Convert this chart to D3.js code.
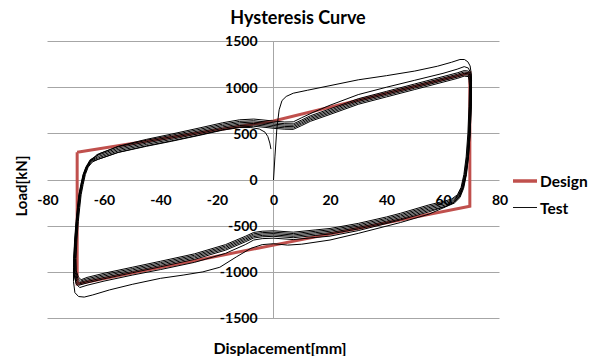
<!DOCTYPE html>
<html>
<head>
<meta charset="utf-8">
<script src="https://cdn.jsdelivr.net/npm/d3@7"></script>
<style>
  body { margin: 0; background: #fff; }
  svg { display: block; }
  text { font-family: Lato, "Liberation Sans", sans-serif; font-weight: 700; fill: #000; }
</style>
</head>
<body>
<svg id="chart" width="600" height="356"></svg>
<script>
// Axis ticks
const dispTicks = [-80, -60, -40, -20, 0, 20, 40, 60, 80];
const loadTicks = [-1500, -1000, -500, 0, 500, 1000, 1500];

// Design (idealised) envelope: displacement [mm] and load [kN]
const designDisp = [-69.5, 0, 69.5, 69.5, -69.5, -69.5];
const designLoad = [300, 640, 1160, -285, -1125, 300];

// Test record, cycle by cycle: [displacement mm, load kN]
const testCycle1 = [
  [0,0],[0.5,250],[1.2,560],[2,760],[3,860],[4.5,905],[7,940],[12,972],[20,1022],[30,1085],
  [40,1130],[50,1180],[58,1232],[63,1275],[66,1305],[67.6,1305],[68.8,1280],[69.6,1235],[70,1150],
  [70.1,1000],[70,800],[69.6,500],[69,250],[68.3,60],[67.3,-90],[66,-190],[64,-250],[61,-290],
  [55,-370],[45,-460],[30,-578],[20,-650],[10,-695],[5,-705],[0,-690],[-4,-700],[-8,-740],
  [-13,-830],[-19,-945],[-25,-995],[-32,-1030],[-40,-1065],[-50,-1130],[-58,-1190],[-64,-1245],
  [-67,-1268],[-69,-1262],[-70.3,-1220],
  [-70.8,-1100],[-70.8,-950],[-70.4,-750],[-69.8,-500],[-69.2,-300],[-68.5,-130],[-67.6,0],
  [-66.5,110],[-65,200]
];
const testCycle2 = [
  [-62.5,275],[-55,365],[-45,440],[-36,498],[-26,565],[-18,620],[-12,652],[-7,660],[-3,648],
  [0,638],[4,628],[7,630],[10,675],[14,732],[20,810],[30,925],[40,1005],[50,1080],[60,1155],
  [65,1200],[67.5,1228],[69,1212],[69.9,1150],
  [70.1,1050],[69.9,800],[69.5,500],[68.9,250],[68.1,60],[67.1,-80],[65.8,-182],[63.7,-245],[61,-285],
  [55,-345],[45,-432],[30,-548],[20,-608],[15,-622],[7,-645],[0,-630],[-4,-635],[-7,-650],
  [-10,-700],[-17,-795],[-28,-892],[-40,-970],[-50,-1030],[-60,-1095],[-66,-1140],[-68.6,-1165],
  [-69.9,-1125],[-70.6,-1015],[-70.7,-850],[-70.3,-650],[-69.8,-450],[-69.3,-300],[-68.8,-160],
  [-68.1,-50],[-67.3,60],[-66.3,140],[-64.7,215]
];
const testCycle3 = [
  [-61.6,285],[-55,360],[-45,430],[-36,485],[-26,550],[-18,605],[-12,635],[-7,642],[-3,630],
  [0,620],[4,610],[7,608],[10,650],[13,695],[20,770],[30,880],[40,960],[50,1040],[60,1120],
  [65,1160],[67.5,1185],[69,1180],[69.8,1140],
  [70.1,1080],[70,800],[69.6,500],[69,250],[68.2,60],[67.2,-80],[65.9,-180],[63.9,-245],[61,-285],
  [55,-330],[45,-420],[40,-460],[30,-530],[20,-585],[15,-600],[7,-625],[0,-610],[-4,-615],
  [-7,-628],[-10,-670],[-17,-760],[-28,-860],[-40,-940],[-50,-1005],[-60,-1070],[-66,-1115],[-68.9,-1140],
  [-69.9,-1110],[-70.6,-1020],[-70.7,-850],[-70.4,-650],[-69.9,-450],[-69.4,-300],[-68.9,-160],
  [-68.2,-50],[-67.4,60],[-66.4,140],[-64.9,220]
];
const testCycle4 = [
  [-62,270],[-55,345],[-45,415],[-36,470],[-26,535],[-18,590],[-12,620],[-7,627],[-3,615],
  [0,605],[4,595],[7,593],[10,635],[13,680],[20,755],[30,865],[40,945],[50,1025],[60,1105],
  [65,1145],[67.5,1170],[69,1165],[69.7,1125],
  [69.9,1065],[69.8,800],[69.4,500],[68.8,250],[68,60],[67,-80],[65.7,-175],[63.7,-235],[61,-270],
  [55,-315],[45,-405],[40,-445],[30,-515],[20,-570],[15,-585],[7,-610],[0,-595],[-4,-600],
  [-7,-613],[-10,-655],[-17,-745],[-28,-845],[-40,-925],[-50,-990],[-60,-1055],[-66,-1100],[-68.7,-1125],
  [-69.7,-1095],[-70.4,-1010],[-70.5,-850],[-70.2,-650],[-69.7,-450],[-69.2,-300],[-68.7,-160],
  [-68,-50],[-67.2,60],[-66.2,140],[-64.7,212]
];
const testCycle5 = [
  [-62,255],[-55,330],[-45,400],[-36,455],[-26,520],[-18,575],[-12,605],[-7,612],[-3,600],
  [0,590],[4,580],[7,578],[10,620],[13,665],[20,740],[30,850],[40,930],[50,1010],[60,1090],
  [65,1130],[67.5,1155],[69,1150],[69.6,1110],
  [69.8,1050],[69.6,800],[69.2,500],[68.6,250],[67.8,60],[66.8,-80],[65.5,-170],[63.5,-225],[61,-255],
  [55,-300],[45,-390],[40,-430],[30,-500],[20,-555],[15,-570],[7,-595],[0,-580],[-4,-585],
  [-7,-598],[-10,-640],[-17,-730],[-28,-830],[-40,-910],[-50,-975],[-60,-1040],[-66,-1085],[-68.5,-1110],
  [-69.5,-1080],[-70.2,-1000],[-70.3,-850],[-70,-650],[-69.5,-450],[-69,-300],[-68.5,-160],
  [-67.8,-50],[-67,60],[-66,140],[-64.5,208]
];
const testCycle6 = [
  [-62,240],[-55,315],[-45,385],[-36,440],[-26,505],[-18,560],[-12,590],[-7,597],[-3,585],
  [0,575],[4,565],[7,563],[10,605],[13,650],[20,725],[30,835],[40,915],[50,995],[60,1075],
  [65,1115],[67.5,1140],[69,1135],[69.4,1095],
  [69.6,1035],[69.4,800],[69,500],[68.4,250],[67.6,60],[66.6,-80],[65.3,-165],[63.3,-215],[61,-240],
  [55,-285],[45,-375],[40,-415],[30,-485],[20,-540],[15,-555],[7,-580],[0,-565],[-4,-570],
  [-7,-583],[-10,-625],[-17,-715],[-28,-815],[-40,-895],[-50,-960],[-60,-1025],[-66,-1070],[-68.3,-1095],
  [-69.3,-1065],[-70,-990],[-70.1,-850],[-69.8,-650],[-69.3,-450],[-68.8,-300],[-68.3,-160],
  [-67.6,-50],[-66.8,60],[-65.8,140],[-64.3,203]
];
const testCycle7 = [
  [-62,225],[-55,300],[-45,370],[-36,425],[-26,490],[-18,545],[-12,575],[-7,582],[-3,570],
  [0,560],[4,550],[7,548],[10,590],[13,635],[20,710],[30,820],[40,900],[50,980],[60,1060],
  [65,1100],[67.5,1125],[69,1120],[69.2,1080],
  [69.4,1020],[69.2,800],[68.8,500],[68.2,250],[67.4,60],[66.4,-80],[65.1,-160],[63.1,-205],[61,-225],
  [55,-270],[45,-360],[40,-400],[30,-470],[20,-525],[15,-540],[7,-565],[0,-550],[-4,-555],
  [-7,-568],[-10,-610],[-17,-700],[-28,-800],[-40,-880],[-50,-945],[-60,-1010],[-66,-1055],[-68.1,-1080],
  [-69.1,-1050],[-69.8,-985],[-69.9,-850],[-69.6,-650],[-69.1,-450],[-68.6,-300],[-68.1,-160],
  [-67.4,-50],[-66.6,60],[-65.6,140],[-64.1,195]
];
// Final half-cycle and unloading back towards zero displacement
const testTail = [
  [-62,225],[-55,298],[-45,365],[-36,420],[-26,485],[-18,540],[-12,568],[-8,568],[-5,552],
  [-3,518],[-2,470],[-1.3,400],[-0.9,335]
];
const testCycles = [testCycle1, testCycle2, testCycle3, testCycle4, testCycle5, testCycle6, testCycle7, testTail];

const designColor = "#c0504d";
const gridColor = "#a6a6a6";

const svg = d3.select("#chart");

const x = d3.scaleLinear().domain([-80, 80]).range([47.5, 499.5]);
const y = d3.scaleLinear().domain([-1500, 1500]).range([318.5, 41.5]);
const crisp = v => Math.floor(v) + 0.5;
const plain = d => String(d).replace("\u2212", "-");

// Horizontal gridlines (the zero line doubles as the x axis)
svg.append("g")
  .selectAll("line")
  .data(loadTicks)
  .join("line")
  .attr("x1", x(-80)).attr("x2", x(80))
  .attr("y1", d => crisp(y(d))).attr("y2", d => crisp(y(d)))
  .attr("stroke", gridColor).attr("stroke-width", 1);

// Vertical axis line at zero displacement
svg.append("line")
  .attr("x1", crisp(x(0))).attr("x2", crisp(x(0)))
  .attr("y1", crisp(y(1500))).attr("y2", crisp(y(-1500)))
  .attr("stroke", gridColor).attr("stroke-width", 1);

// Load axis labels, placed beside the zero-displacement line
const yAxis = svg.append("g")
  .attr("transform", `translate(${x(0)},0)`)
  .call(d3.axisLeft(y).tickValues(loadTicks).tickFormat(plain).tickSize(0).tickPadding(16));
yAxis.select(".domain").remove();
yAxis.selectAll("text").attr("font-size", 14).attr("font-family", null);

// Displacement axis labels, placed below the zero-load line
const xAxis = svg.append("g")
  .attr("transform", `translate(0,${y(0)})`)
  .call(d3.axisBottom(x).tickValues(dispTicks).tickFormat(plain).tickSize(0).tickPadding(15));
xAxis.select(".domain").remove();
xAxis.selectAll("text").attr("font-size", 14).attr("font-family", null);

const line = d3.line().x(d => x(d[0])).y(d => y(d[1]));

// Design envelope
const designPts = designDisp.map((d, i) => [d, designLoad[i]]);
svg.append("path")
  .attr("d", line(designPts))
  .attr("fill", "none")
  .attr("stroke", designColor)
  .attr("stroke-width", 3)
  .attr("stroke-linejoin", "miter");

// Test hysteresis record
svg.append("path")
  .attr("d", line(testCycles.flat()))
  .attr("fill", "none")
  .attr("stroke", "#000")
  .attr("stroke-width", 1)
  .attr("stroke-linejoin", "round");

// Title and axis titles
svg.append("text")
  .attr("x", 298).attr("y", 17)
  .attr("text-anchor", "middle").attr("dominant-baseline", "central")
  .attr("font-size", 18)
  .text("Hysteresis Curve");

svg.append("text")
  .attr("transform", "translate(21,186) rotate(-90)")
  .attr("text-anchor", "middle").attr("dominant-baseline", "central")
  .attr("font-size", 15)
  .text("Load[kN]");

svg.append("text")
  .attr("x", 280).attr("y", 347)
  .attr("text-anchor", "middle").attr("dominant-baseline", "central")
  .attr("font-size", 16)
  .text("Displacement[mm]");

// Legend
const legend = svg.append("g");
const legendItems = [
  { name: "Design", color: designColor, width: 3.5, yPos: 181 },
  { name: "Test", color: "#111", width: 1, yPos: 207.5 }
];
legendItems.forEach(item => {
  legend.append("line")
    .attr("x1", 513).attr("x2", 537)
    .attr("y1", item.yPos).attr("y2", item.yPos)
    .attr("stroke", item.color).attr("stroke-width", item.width);
  legend.append("text")
    .attr("x", 540).attr("y", item.yPos)
    .attr("dominant-baseline", "central")
    .attr("font-size", 15.5)
    .text(item.name);
});
</script>
</body>
</html>
